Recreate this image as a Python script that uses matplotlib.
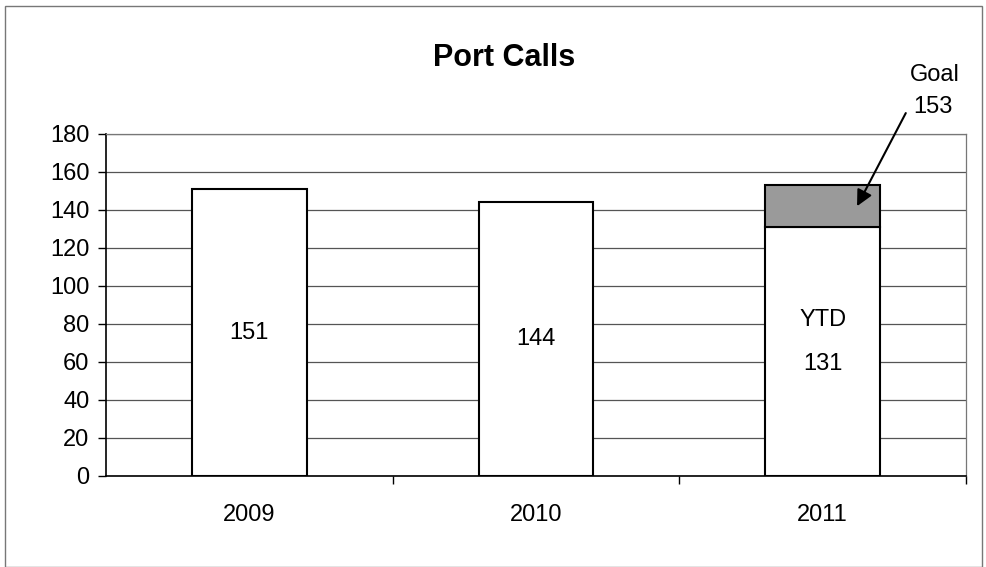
import numpy as np
import matplotlib.pyplot as plt
from matplotlib.patches import Rectangle

plt.rcParams['font.family'] = ['Liberation Sans', 'DejaVu Sans']

# Data
years = ['2009', '2010', '2011']
calls = [151, 144, 131]
goal_2011 = 153

fig = plt.figure(figsize=(9.87, 5.67), dpi=100)
ax = fig.add_axes([0.1074, 0.1605, 0.8713, 0.6032])

x = np.arange(len(years))
ax.bar(x, calls, width=0.4, color='white', edgecolor='black', linewidth=1.5, zorder=3)

# Remaining to goal for 2011, stacked on YTD
ax.bar(x[-1], goal_2011 - calls[-1], bottom=calls[-1], width=0.4,
       color='#9a9a9a', edgecolor='black', linewidth=1.5, zorder=3)

# Value labels in the middle of each bar
for xi, v in zip(x[:2], calls[:2]):
    ax.text(xi, v / 2, str(v), ha='center', va='center', fontsize=17, zorder=4)
ax.text(x[2], 82, 'YTD', ha='center', va='center', fontsize=17, zorder=4)
ax.text(x[2], 59, str(calls[2]), ha='center', va='center', fontsize=17, zorder=4)

# Goal annotation with arrow
ax.annotate('', xy=(x[2] + 0.12, 142), xytext=(x[2] + 0.29, 191),
            annotation_clip=False,
            arrowprops=dict(arrowstyle='-|>', color='black', lw=1.5,
                            mutation_scale=24, shrinkA=0, shrinkB=0),
            zorder=5)
ax.text(x[2] + 0.39, 211, 'Goal', ha='center', va='center', fontsize=17, clip_on=False)
ax.text(x[2] + 0.385, 194, str(goal_2011), ha='center', va='center', fontsize=17, clip_on=False)

ax.set_xlim(-0.5, 2.5)
ax.set_ylim(0, 180)
ax.set_yticks(np.arange(0, 181, 20))
ax.yaxis.grid(True, color='#555555', linewidth=0.9, zorder=0)
ax.set_xticks(x)
ax.set_xticklabels(years)
ax.tick_params(axis='x', length=0, pad=20, labelsize=17)
ax.tick_params(axis='y', length=6, width=1, pad=6, labelsize=17)
ax.set_xticks([0.5, 1.5, 2.5], minor=True)
ax.tick_params(axis='x', which='minor', length=6, width=1, direction='out')

for side in ['top', 'right']:
    ax.spines[side].set_color('#777777')
    ax.spines[side].set_linewidth(0.9)
for side in ['left', 'bottom']:
    ax.spines[side].set_color('black')
    ax.spines[side].set_linewidth(1.2)

fig.text(0.511, 0.898, 'Port Calls', ha='center', va='center',
         fontsize=22, fontweight='bold')

# Thin frame around the chart
fig.patches.append(Rectangle((0.005, 0.0), 0.99, 0.99, transform=fig.transFigure,
                             fill=False, edgecolor='#777777', linewidth=1))

fig.savefig('out.png', dpi=100)
